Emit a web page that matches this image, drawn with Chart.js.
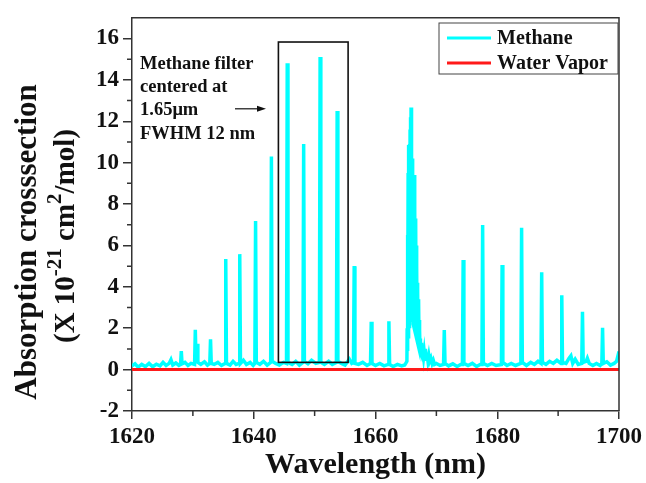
<!DOCTYPE html>
<html>
<head>
<meta charset="utf-8">
<script src="https://cdn.jsdelivr.net/npm/chart.js@4.4.1/dist/chart.umd.min.js"></script>
<style>
  html, body { margin: 0; padding: 0; background: #fff; }
  #box { width: 646px; height: 483px; }
</style>
</head>
<body>
<div id="box"><canvas id="myChart" width="646" height="483"></canvas></div>
<script>
// Methane absorption spectrum (wavelength nm, X 10^-21 cm2/mol)
const methaneNm = [
  1620.0, 1620.5, 1621.0, 1621.6, 1622.2, 1622.8, 1623.4, 1624.0, 1624.6, 1625.1,
  1625.6, 1626.1, 1626.4, 1626.7, 1627.2, 1627.7, 1627.98, 1628.1, 1628.22, 1628.7,
  1629.2, 1629.7, 1630.28, 1630.4, 1630.52, 1630.7, 1630.82, 1631.3, 1631.9, 1632.4,
  1632.78, 1632.9, 1633.02, 1633.5, 1634.1, 1634.7, 1635.28, 1635.4, 1635.52, 1636.1,
  1636.6, 1637.1, 1637.58, 1637.7, 1637.82, 1638.3, 1638.8, 1639.4, 1639.9, 1640.18,
  1640.3, 1640.42, 1641.0, 1641.6, 1642.2, 1642.78, 1642.9, 1643.02, 1643.6, 1644.2,
  1644.9, 1645.38, 1645.5, 1645.62, 1646.3, 1646.9, 1647.5, 1648.08, 1648.2, 1648.32,
  1648.9, 1649.5, 1650.2, 1650.78, 1650.9, 1651.02, 1651.6, 1652.3, 1652.9, 1653.58,
  1653.7, 1653.82, 1654.4, 1655.0, 1655.7, 1656.1, 1656.38, 1656.5, 1656.62, 1657.2,
  1657.9, 1658.6, 1659.18, 1659.3, 1659.42, 1660.0, 1660.7, 1661.4, 1662.08, 1662.2,
  1662.32, 1662.9, 1663.6, 1664.3, 1664.8,
  // the dense Q-branch cluster near 1666 nm
  1665.16, 1665.20, 1665.24, 1665.28, 1665.32, 1665.36, 1665.40, 1665.44, 1665.48, 1665.52,
  1665.56, 1665.60, 1665.64, 1665.68, 1665.72, 1665.76, 1665.80, 1665.84, 1665.88, 1665.92,
  1665.96, 1666.00, 1666.04, 1666.08, 1666.12, 1666.16, 1666.20, 1666.24, 1666.28, 1666.32,
  1666.36, 1666.40, 1666.44, 1666.48, 1666.52, 1666.56, 1666.60, 1666.64, 1666.68, 1666.72,
  1666.76, 1666.80, 1666.84, 1666.88, 1666.92, 1666.96, 1667.00, 1667.04, 1667.08, 1667.12,
  1667.16, 1667.20, 1667.24, 1667.28, 1667.32, 1667.36, 1667.40, 1667.48, 1667.56, 1667.64,
  1667.72, 1667.80, 1667.90, 1668.00, 1668.10, 1668.20, 1668.30, 1668.45, 1668.60, 1668.75,
  1668.90, 1669.10, 1669.30, 1669.50, 1669.70, 1670.00,
  1670.6, 1671.18, 1671.3, 1671.42, 1672.0, 1672.7, 1673.4, 1674.0, 1674.28, 1674.4,
  1674.52, 1675.2, 1675.9, 1676.6, 1677.2, 1677.48, 1677.6, 1677.72, 1678.4, 1679.1,
  1679.8, 1680.68, 1680.8, 1680.92, 1681.6, 1682.3, 1683.0, 1683.88, 1684.0, 1684.12,
  1684.8, 1685.5, 1686.1, 1686.7, 1687.18, 1687.3, 1687.42, 1688.0, 1688.6, 1689.2,
  1689.8, 1690.48, 1690.6, 1690.72, 1691.3, 1691.8, 1692.1, 1692.4, 1692.8, 1693.3,
  1693.88, 1694.0, 1694.12, 1694.6, 1694.8, 1695.1, 1695.7, 1696.3, 1696.9, 1697.18,
  1697.3, 1697.42, 1698.0, 1698.6, 1699.2, 1699.6, 1700.0
];
const methaneAbs = [
  0.18, 0.28, 0.12, 0.25, 0.15, 0.30, 0.14, 0.26, 0.18, 0.35,
  0.20, 0.30, 0.48, 0.22, 0.32, 0.20, 0.25, 0.90, 0.28, 0.35,
  0.20, 0.30, 0.25, 1.92, 0.40, 1.25, 0.35, 0.25, 0.38, 0.22,
  0.30, 1.47, 0.30, 0.25, 0.35, 0.20, 0.30, 5.34, 0.30, 0.22,
  0.40, 0.25, 0.30, 5.58, 0.30, 0.45, 0.25, 0.35, 0.20, 0.30,
  7.18, 0.35, 0.25, 0.40, 0.22, 0.35, 10.3, 0.40, 0.30, 0.22,
  0.35, 0.30, 14.8, 0.35, 0.25, 0.40, 0.22, 0.35, 10.9, 0.40,
  0.28, 0.45, 0.30, 0.35, 15.1, 0.35, 0.25, 0.40, 0.25, 0.35,
  12.5, 0.40, 0.30, 0.22, 0.50, 0.30, 0.35, 5.00, 0.30, 0.25,
  0.35, 0.20, 0.30, 2.31, 0.30, 0.20, 0.30, 0.18, 0.25, 2.34,
  0.25, 0.15, 0.25, 0.18, 0.22,
  0.40, 2.00, 0.90, 6.50, 1.20, 9.50, 1.50, 10.85, 1.80, 10.6,
  2.00, 10.9, 2.20, 11.6, 2.40, 12.2, 2.50, 12.66, 2.60, 11.3,
  2.50, 10.2, 2.40, 9.60, 2.30, 9.40, 2.20, 9.30, 2.10, 8.60,
  2.00, 9.40, 1.90, 7.80, 1.80, 7.30, 1.70, 7.10, 1.60, 6.00,
  1.50, 5.00, 1.40, 4.20, 1.30, 3.80, 1.20, 3.40, 1.10, 3.30,
  1.00, 2.40, 0.95, 1.90, 0.90, 1.50, 0.85, 1.30, 0.80, 1.10,
  0.70, 0.95, 0.60, 0.85, 0.55, 1.00, 0.50, 0.80, 0.45, 0.70,
  0.40, 0.55, 0.30, 0.45, 0.25, 0.30,
  0.20, 0.25, 1.91, 0.30, 0.18, 0.28, 0.15, 0.25, 0.25, 5.30,
  0.30, 0.20, 0.30, 0.15, 0.25, 0.25, 6.99, 0.30, 0.20, 0.30,
  0.20, 0.25, 5.06, 0.35, 0.20, 0.30, 0.20, 0.30, 6.86, 0.35,
  0.20, 0.35, 0.25, 0.40, 0.30, 4.70, 0.35, 0.25, 0.40, 0.30,
  0.45, 0.30, 3.59, 0.35, 0.30, 0.55, 0.67, 0.30, 0.50, 0.25,
  0.30, 2.79, 0.35, 0.40, 0.55, 0.30, 0.20, 0.30, 0.20, 0.30,
  2.02, 0.30, 0.38, 0.22, 0.30, 0.40, 0.88
];
// Water vapor stays flat at zero over the whole band
const waterNm = [1620, 1640, 1660, 1680, 1700];
const waterAbs = [0, 0, 0, 0, 0];

const xTicks = [1620, 1640, 1660, 1680, 1700];
const xMinorTicks = [1630, 1650, 1670, 1690];
const yTicks = [-2, 0, 2, 4, 6, 8, 10, 12, 14, 16];
const yMinorTicks = [-1, 1, 3, 5, 7, 9, 11, 13, 15];

const seriesNames = ['Methane', 'Water Vapor'];
const seriesColors = ['#00ffff', '#ff1a1a'];

// filter window drawn as a box (nm, absorption)
const filterBox = { xMin: 1644.05, xMax: 1655.5, yMin: 0.35, yMax: 15.83 };
const filterText = ['Methane filter', 'centered at', '1.65\u03bcm', 'FWHM 12 nm'];

const serif = '"Liberation Serif", "Times New Roman", serif';
const axisColor = '#333';

const decor = {
    id: 'decor',
    afterDraw(chart) {
        const ctx = chart.ctx;
        const a = chart.chartArea;
        const x = chart.scales.x, y = chart.scales.y;
        ctx.save();

        // frame top / right
        ctx.strokeStyle = axisColor;
        ctx.lineWidth = 1.5;
        ctx.beginPath();
        ctx.moveTo(a.left, a.top);
        ctx.lineTo(a.right, a.top);
        ctx.lineTo(a.right, a.bottom);
        ctx.stroke();

        // minor ticks
        ctx.beginPath();
        xMinorTicks.forEach(v => {
            const px = x.getPixelForValue(v);
            ctx.moveTo(px, a.bottom);
            ctx.lineTo(px, a.bottom + 5);
        });
        yMinorTicks.forEach(v => {
            const py = y.getPixelForValue(v);
            ctx.moveTo(a.left - 5, py);
            ctx.lineTo(a.left, py);
        });
        ctx.stroke();

        // filter box
        const bx1 = x.getPixelForValue(filterBox.xMin), bx2 = x.getPixelForValue(filterBox.xMax);
        const by1 = y.getPixelForValue(filterBox.yMax), by2 = y.getPixelForValue(filterBox.yMin);
        ctx.strokeStyle = '#111';
        ctx.lineWidth = 1.6;
        ctx.strokeRect(bx1, by1, bx2 - bx1, by2 - by1);

        // annotation text + arrow
        ctx.fillStyle = '#111';
        ctx.font = 'bold 18.5px ' + serif;
        ctx.textAlign = 'left';
        ctx.textBaseline = 'alphabetic';
        filterText.forEach((t, i) => {
            ctx.fillText(t, a.left + 8, a.top + 51 + i * 23.3);
        });
        const ay = a.top + 91;
        ctx.lineWidth = 1.2;
        ctx.beginPath();
        ctx.moveTo(a.left + 103, ay);
        ctx.lineTo(a.left + 128, ay);
        ctx.stroke();
        ctx.beginPath();
        ctx.moveTo(a.left + 134, ay);
        ctx.lineTo(a.left + 125, ay - 3);
        ctx.lineTo(a.left + 125, ay + 3);
        ctx.closePath();
        ctx.fill();

        // legend
        const lx = 439, ly = 23, lw = 179, lh = 51;
        ctx.fillStyle = '#fff';
        ctx.fillRect(lx, ly, lw, lh);
        ctx.strokeStyle = '#444';
        ctx.lineWidth = 1;
        ctx.strokeRect(lx, ly, lw, lh);
        ctx.font = 'bold 20px ' + serif;
        ctx.textBaseline = 'middle';
        chart.data.datasets.forEach((ds, i) => {
            const yy = ly + 15 + i * 25;
            ctx.strokeStyle = ds.borderColor;
            ctx.lineWidth = 3;
            ctx.beginPath();
            ctx.moveTo(lx + 8, yy);
            ctx.lineTo(lx + 52, yy);
            ctx.stroke();
            ctx.fillStyle = '#111';
            ctx.fillText(ds.label, lx + 58, yy + 1);
        });

        // x title
        ctx.font = 'bold 30px ' + serif;
        ctx.textAlign = 'center';
        ctx.textBaseline = 'alphabetic';
        ctx.fillText('Wavelength (nm)', (a.left + a.right) / 2, 473);

        // y title, two rotated lines, second with superscripts
        ctx.save();
        ctx.translate(36, 242);
        ctx.rotate(-Math.PI / 2);
        ctx.font = 'bold 31px ' + serif;
        ctx.fillText('Absorption crosssection', 0, 0);
        ctx.restore();

        const parts = [
            { t: '(X 10', sup: false }, { t: '-21', sup: true }, { t: ' cm', sup: false },
            { t: '2', sup: true }, { t: '/mol)', sup: false }
        ];
        const big = 'bold 29px ' + serif, small = 'bold 21px ' + serif;
        let total = 0;
        parts.forEach(p => { ctx.font = p.sup ? small : big; p.w = ctx.measureText(p.t).width; total += p.w; });
        ctx.save();
        ctx.translate(74, 236);
        ctx.rotate(-Math.PI / 2);
        ctx.textAlign = 'left';
        let cx = -total / 2;
        parts.forEach(p => {
            ctx.font = p.sup ? small : big;
            ctx.fillText(p.t, cx, p.sup ? -13 : 0);
            cx += p.w;
        });
        ctx.restore();

        ctx.restore();
    }
};

const ctx = document.getElementById('myChart').getContext('2d');
const myChart = new Chart(ctx, {
    type: 'line',
    data: {
        datasets: [{
            label: seriesNames[0],
            data: methaneNm.map((v, i) => ({ x: v, y: methaneAbs[i] })),
            borderColor: seriesColors[0],
            borderWidth: 3.5,
            pointRadius: 0,
            tension: 0,
            fill: false,
            order: 2
        }, {
            label: seriesNames[1],
            data: waterNm.map((v, i) => ({ x: v, y: waterAbs[i] })),
            borderColor: seriesColors[1],
            borderWidth: 3,
            pointRadius: 0,
            tension: 0,
            fill: false,
            order: 1
        }]
    },
    options: {
        responsive: false,
        animation: false,
        events: [],
        layout: { padding: { top: 17, right: 25, left: 0, bottom: 0 } },
        plugins: {
            legend: { display: false },
            tooltip: { enabled: false }
        },
        scales: {
            x: {
                type: 'linear',
                min: 1620,
                max: 1700,
                afterBuildTicks: s => { s.ticks = xTicks.map(v => ({ value: v })); },
                afterFit: s => { s.height = 72; },
                grid: { drawOnChartArea: false, drawTicks: true, tickLength: 8, color: axisColor, lineWidth: 1.5 },
                border: { display: true, color: axisColor, width: 1.5 },
                ticks: {
                    color: '#111',
                    padding: 4,
                    maxRotation: 0,
                    font: { family: serif, weight: 'bold', size: 23 },
                    callback: v => String(v)
                }
            },
            y: {
                min: -2,
                max: 17,
                afterBuildTicks: s => { s.ticks = yTicks.map(v => ({ value: v })); },
                afterFit: s => { s.width = 132; },
                grid: { drawOnChartArea: false, drawTicks: true, tickLength: 9, color: axisColor, lineWidth: 1.5 },
                border: { display: true, color: axisColor, width: 1.5 },
                ticks: {
                    color: '#111',
                    padding: 4,
                    font: { family: serif, weight: 'bold', size: 23 },
                    callback: v => String(v)
                }
            }
        }
    },
    plugins: [decor]
});
</script>
</body>
</html>
